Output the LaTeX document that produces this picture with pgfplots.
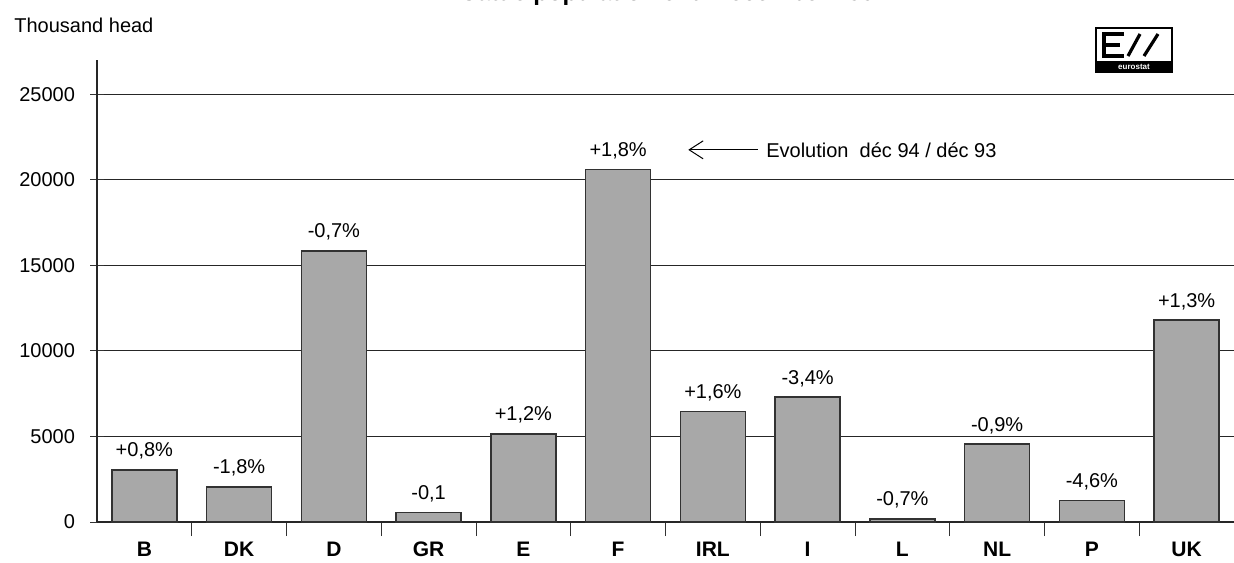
\documentclass[border=0pt]{standalone}
\usepackage{fontspec}
\setmainfont{Liberation Sans}
\usepackage{pgfplots}
\pgfplotsset{compat=1.18}
\usetikzlibrary{arrows.meta}
\definecolor{barfill}{RGB}{168,168,168}
\definecolor{baredge}{RGB}{50,50,50}
\begin{document}
\begin{tikzpicture}
\begin{axis}[
  at={(48.5pt,20pt)}, anchor=south west, scale only axis,
  width=568.5pt, height=231pt,
  xmin=-0.5, xmax=11.5, ymin=0, ymax=27000,
  axis x line=bottom, axis y line=left,
  axis line style={-, black!85, line width=0.6pt},
  ytick={0,5000,10000,15000,20000,25000},
  scaled y ticks=false,
  ymajorgrids, grid style={black!85, line width=0.5pt},
  tick align=center, major tick length=7pt,
  tick style={black!80, line width=0.5pt},
  yticklabel style={font=\fontsize{10}{12}\selectfont, xshift=-4pt},
  /pgf/number format/1000 sep={},
  /pgf/number format/assume math mode=true,
  xtick={0.5,1.5,...,10.5}, xticklabels={},
  extra x ticks={0,1,2,3,4,5,6,7,8,9,10,11},
  extra x tick labels={B,DK,D,GR,E,F,IRL,I,L,NL,P,UK},
  extra x tick style={major tick length=0pt, grid=none,
     xticklabel style={font=\fontsize{10.5}{12}\selectfont\bfseries, yshift=-6.5pt}},
  ybar, bar width=32.5pt,
  point meta=explicit symbolic,
  nodes near coords,
  every node near coord/.append style={font=\fontsize{10}{12}\selectfont, yshift=1.5pt, black},
  clip=false,
]
\addplot[fill=barfill, draw=baredge, line width=0.8pt] coordinates {
  (0,3050) [+0,8\%]
  (1,2050) [-1,8\%]
  (2,15850) [-0,7\%]
  (3,560) [-0,1]
  (4,5150) [+1,2\%]
  (5,20600) [+1,8\%]
  (6,6450) [+1,6\%]
  (7,7300) [-3,4\%]
  (8,180) [-0,7\%]
  (9,4550) [-0,9\%]
  (10,1250) [-4,6\%]
  (11,11800) [+1,3\%]
};
\draw[{Straight Barb[length=7pt,width=9pt]}-, line width=0.5pt] (axis cs:5.74,21750) -- (axis cs:6.48,21750);
\node[anchor=west, font=\fontsize{10}{12}\selectfont, inner sep=0pt] at (axis cs:6.56,21750) {Evolution\ \ déc 94 / déc 93};
\end{axis}
% y-axis caption
\node[anchor=west, font=\fontsize{10}{12}\selectfont, inner sep=0pt] at (7pt,268.5pt) {Thousand head};
% title (cut off at the top in the reference)
\node[anchor=base, font=\fontsize{12}{14}\selectfont\bfseries, inner sep=0pt] at (337pt,280.5pt) {Cattle population end December 1994};
% logo
\draw[line width=1.2pt] (548pt,245pt) rectangle (586pt,267pt);
\fill[black] (548pt,245pt) rectangle (586pt,250.5pt);
\node[white, font=\fontsize{4}{4}\selectfont\bfseries, inner sep=0pt] at (567pt,247.7pt) {eurostat};
\draw[line width=1.6pt] (562pt,264pt) -- (552pt,264pt) -- (552pt,253pt) -- (562pt,253pt);
\draw[line width=1.6pt] (552pt,258.5pt) -- (560pt,258.5pt);
\draw[line width=1.6pt] (564pt,253pt) -- (570pt,264pt);
\draw[line width=1.6pt] (572pt,253pt) -- (579pt,264pt);
\pgfresetboundingbox
\useasboundingbox (0,0) rectangle (617pt,281pt);
\end{tikzpicture}
\end{document}
